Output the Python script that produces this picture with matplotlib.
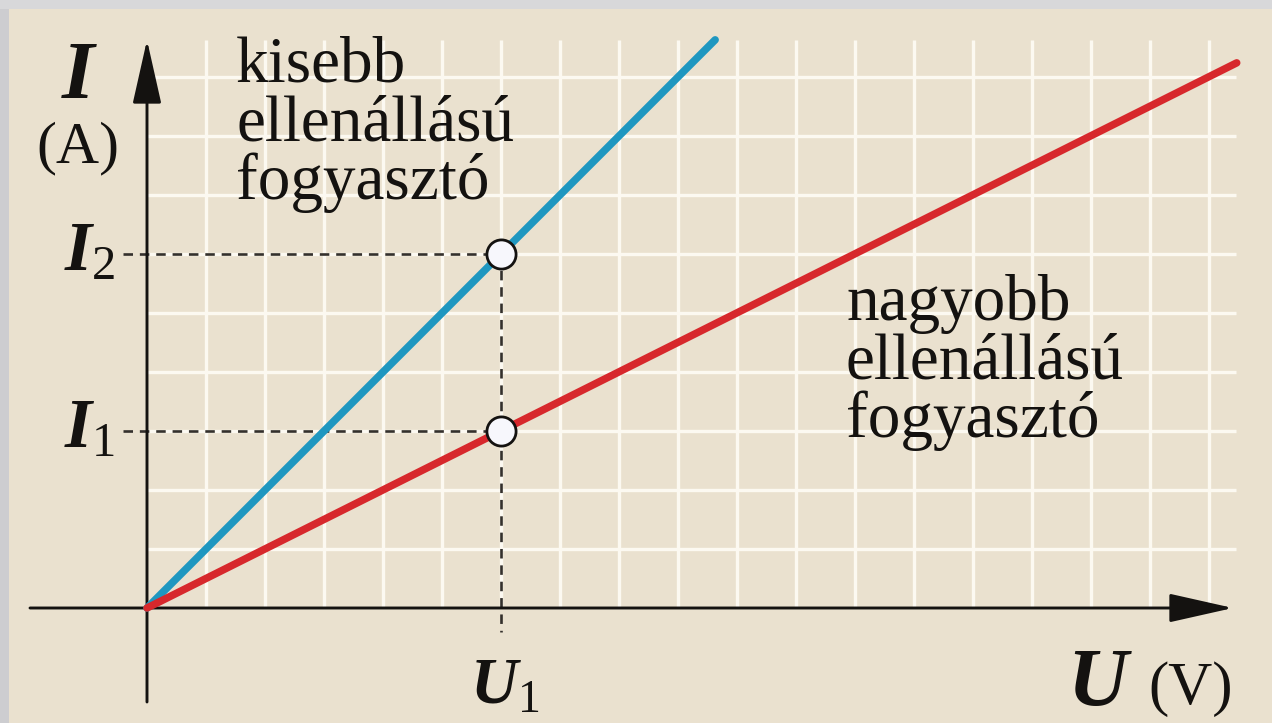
import matplotlib
matplotlib.use("Agg")
import matplotlib.pyplot as plt
import numpy as np
from matplotlib.patches import Rectangle

# ---- data -------------------------------------------------------------
# voltage (grid units) and current for the two consumers
u_small = [0.0, 9.63]          # smaller resistance: I = U
i_small = [0.0, 9.63]
u_large = [0.0, 18.47]         # larger resistance: I = U / 2
i_large = [0.0, 9.24]

U1 = 6.0
I1 = 3.0
I2 = 6.0

grid_x = list(range(1, 19))
grid_y = list(range(1, 10))

label_small = ["kisebb", "ellenállású", "fogyasztó"]
label_large = ["nagyobb", "ellenállású", "fogyasztó"]

# ---- style ------------------------------------------------------------
BG = "#EAE1CF"
GRID = "#FCF9F1"
BLUE = "#1F97C0"
RED = "#D7282C"
INK = "#141210"

plt.rcParams["mathtext.fontset"] = "custom"
plt.rcParams["mathtext.it"] = "Liberation Serif:italic:bold"
plt.rcParams["mathtext.rm"] = "Liberation Serif"
plt.rcParams["font.family"] = ["Liberation Serif", "DejaVu Serif"]

W, H = 1272, 723
ox, oy, unit = 147.0, 608.0, 59.0   # origin in pixels and size of one grid cell

fig = plt.figure(figsize=(W / 100, H / 100), dpi=100, facecolor=BG)
ax = fig.add_axes([0, 0, 1, 1])
ax.set_facecolor(BG)
ax.set_xlim(-ox / unit, (W - ox) / unit)
ax.set_ylim(-(H - oy) / unit, oy / unit)
ax.axis("off")

# grey frame along the left and top edges
fig.patches.append(Rectangle((0, 0), 9 / W, 1, transform=fig.transFigure,
                             facecolor="#CDCDD0", edgecolor="none", zorder=10))
fig.patches.append(Rectangle((0, 1 - 9 / H), 1, 9 / H, transform=fig.transFigure,
                             facecolor="#D8D8DA", edgecolor="none", zorder=10))

# white grid
top = 9.63
right = 18.45
for gx in grid_x:
    ax.plot([gx, gx], [0, top], color=GRID, lw=2.4, zorder=1, solid_capstyle="butt")
for gy in grid_y:
    ax.plot([0, right], [gy, gy], color=GRID, lw=2.4, zorder=1, solid_capstyle="butt")

# axes with arrowheads
arrow = dict(arrowstyle="-|>,head_length=2.0,head_width=0.45", color=INK,
             lw=2.1, shrinkA=0, shrinkB=0, mutation_scale=20)
ax.annotate("", xy=((1233 - ox) / unit, 0), xytext=((30 - ox) / unit, 0),
            arrowprops=arrow, zorder=3)
ax.annotate("", xy=(0, (oy - 40) / unit), xytext=(0, -(702 - oy) / unit),
            arrowprops=arrow, zorder=3)

# guide lines to the marked points
dash = dict(color="#34302C", lw=1.9, linestyle=(0, (3.6, 2.6)), zorder=2)
ax.plot([-0.41, U1], [I2, I2], **dash)
ax.plot([-0.41, U1], [I1, I1], **dash)
ax.plot([U1, U1], [I2, -0.41], **dash)

# characteristic lines
ax.plot(u_small, i_small, color=BLUE, lw=5.4, solid_capstyle="round", zorder=4)
ax.plot(u_large, i_large, color=RED, lw=5.4, solid_capstyle="round", zorder=4)

# marked operating points
ax.plot([U1, U1], [I2, I1], linestyle="none", marker="o", markersize=21,
        markerfacecolor="#F7F7FC", markeredgecolor=INK, markeredgewidth=2.0, zorder=5)

# text labels
def px(x):
    return (x - ox) / unit

def py(y):
    return (oy - y) / unit

fs_lab = 47
for k, line in enumerate(label_small):
    ax.text(px(236), py(82 + 58.5 * k), line, fontsize=fs_lab, color=INK,
            ha="left", va="baseline", zorder=6)
for k, line in enumerate(label_large):
    ax.text(px(846), py(320 + 58.5 * k), line, fontsize=fs_lab, color=INK,
            ha="left", va="baseline", zorder=6)

ax.text(px(80), py(98), "$I$", fontsize=60, color=INK, ha="center", va="baseline")
ax.text(px(78), py(162), "(A)", fontsize=43, color=INK, ha="center", va="baseline")
ax.text(px(90), py(270), "$I_2$", fontsize=50, color=INK, ha="center", va="baseline")
ax.text(px(90), py(447), "$I_1$", fontsize=50, color=INK, ha="center", va="baseline")
ax.text(px(505), py(703), "$U_1$", fontsize=47, color=INK, ha="center", va="baseline")
ax.text(px(1100), py(705), "$U$", fontsize=60, color=INK, ha="center", va="baseline")
ax.text(px(1191), py(704), "(V)", fontsize=44, color=INK, ha="center", va="baseline")

fig.savefig("out.png", dpi=100, facecolor=BG)
